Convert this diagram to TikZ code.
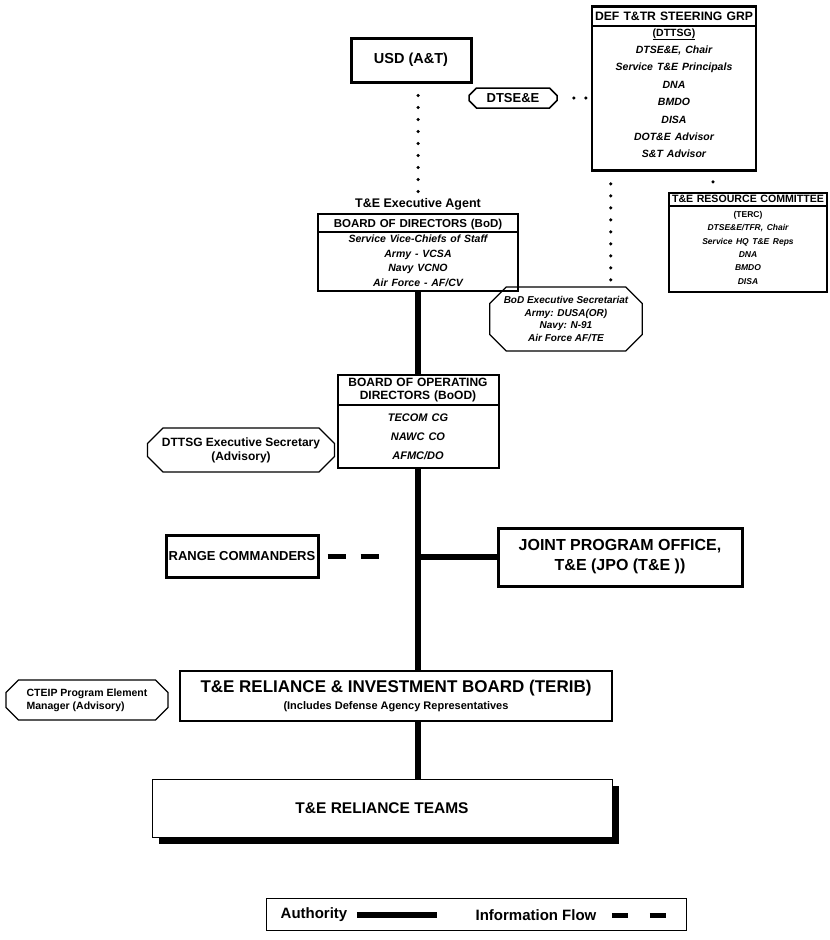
\documentclass[tikz,border=0pt]{standalone}
\usepackage{fontspec}
\setmainfont{Liberation Sans}
\usetikzlibrary{shapes.multipart, shapes.misc, shadows}

\newcommand{\fsz}[2]{\fontsize{#1}{#2}\selectfont}

\begin{document}
\begin{tikzpicture}[x=1pt, y=-1pt,
  heavy/.style={rectangle, draw=black, line width=3pt, align=center, inner sep=2pt},
  panel/.style={rectangle split, rectangle split parts=2, draw=black, align=center, inner xsep=2pt, inner ysep=1.5pt},
  memo/.style={chamfered rectangle, draw=black, line width=1.2pt, align=center, inner sep=1pt},
  authority/.style={line width=6pt},
  infoflow/.style={line width=5pt, dash pattern=on 18pt off 15pt},
  dots/.style={line width=3.5pt, line cap=round, dash pattern=on 0pt off 12pt}]

\useasboundingbox (0,0) rectangle (830,940);

\node[heavy, minimum width=120pt, minimum height=44pt, font=\bfseries\fsz{14.5}{16}] (usd) at (411,60) {USD (A\&T)};
\node[memo, chamfered rectangle xsep=4pt, minimum width=88pt, minimum height=20pt, line width=1.5pt, font=\bfseries\fsz{13}{14}] (dtse) at (513,98) {DTSE\&E};

\node[panel, anchor=north, line width=2.5pt, text width=160pt, font=\bfseries\fsz{12.2}{14}] (dttsg) at (674,5)
  {\rule[-3pt]{0pt}{14pt}DEF T\&TR STEERING GRP
   \nodepart{two}\fsz{10.5}{17.4}\underline{(DTTSG)}\\ \itshape DTSE\&E, Chair\\ Service T\&E Principals\\ DNA\\ BMDO\\ DISA\\ DOT\&E Advisor\\ S\&T Advisor\rule[-10pt]{0pt}{10pt}\par};

\node[panel, anchor=north, line width=2pt, text width=154pt, font=\bfseries\fsz{10.6}{12}] (terc) at (748,192)
  {T\&E RESOURCE COMMITTEE
   \nodepart{two}\fsz{8.5}{13.3}\rule{0pt}{9.5pt}(TERC)\\ \itshape DTSE\&E/TFR, Chair\\ Service HQ T\&E Reps\\ DNA\\ BMDO\\ DISA\rule[-5pt]{0pt}{5pt}\par};

\node[font=\bfseries\fsz{12.5}{14}, inner sep=1pt] (agent) at (418,204) {T\&E Executive Agent};
\node[panel, anchor=north, line width=2pt, text width=196pt, font=\bfseries\fsz{11.5}{13}] (bod) at (418,213)
  {\rule{0pt}{11pt}BOARD OF DIRECTORS (BoD)
   \nodepart{two}\itshape\fsz{10.5}{14.7}Service Vice-Chiefs of Staff\\ Army - VCSA\\ Navy VCNO\\ Air Force - AF/CV\rule[-2pt]{0pt}{2pt}\par};

\node[memo, chamfered rectangle xsep=13pt, minimum width=147pt, minimum height=64pt, font=\bfseries\itshape\fsz{10}{12.5}] (bodsec) at (566,319)
  {BoD Executive Secretariat\\ Army: DUSA(OR)\\ Navy: N-91\\ Air Force AF/TE};

\node[panel, anchor=north, line width=2pt, inner ysep=2pt, text width=157pt, font=\bfseries\fsz{12}{13.5}] (bood) at (418,374)
  {BOARD OF OPERATING\\ DIRECTORS (BoOD)
   \nodepart{two}\itshape\fsz{11}{19}\rule{0pt}{13pt}TECOM CG\\ NAWC CO\\ AFMC/DO\rule[-6pt]{0pt}{6pt}\par};
\node[memo, chamfered rectangle xsep=12pt, minimum width=187pt, minimum height=44pt, font=\bfseries\fsz{12}{14}] (dtsec) at (241,450)
  {DTTSG Executive Secretary\\ (Advisory)};

\node[heavy, minimum width=152pt, minimum height=42pt, font=\bfseries\fsz{13}{15}] (range) at (242,556) {RANGE COMMANDERS};
\node[heavy, minimum width=244pt, minimum height=58pt, font=\bfseries\fsz{16}{20}] (jpo) at (620,557) {JOINT PROGRAM OFFICE,\\ T\&E (JPO (T\&E ))};

\node[heavy, line width=2.5pt, minimum width=432pt, minimum height=50pt, font=\bfseries\fsz{17}{17}] (terib) at (396,696)
  {T\&E RELIANCE \& INVESTMENT BOARD (TERIB)\\ {\fsz{11}{13}(Includes Defense Agency Representatives}};
\node[memo, chamfered rectangle xsep=9pt, minimum width=162pt, minimum height=40pt, align=left, font=\bfseries\fsz{10.5}{13}] (cteip) at (87,700)
  {CTEIP Program Element\\ Manager (Advisory)};

\node[rectangle, draw=black, line width=1pt, fill=white, minimum width=460pt, minimum height=58pt,
  drop shadow={shadow xshift=7pt, shadow yshift=-7pt, fill=black, opacity=1}, font=\bfseries\fsz{15.5}{17}] (teams) at (382,808) {T\&E RELIANCE TEAMS};

% key
\node[rectangle, draw=black, line width=.8pt, minimum width=420pt, minimum height=32pt] (legend) at (476,914) {};
\node[font=\bfseries\fsz{15}{17}] (authkey) at (314,915) {Authority};
\node[font=\bfseries\fsz{15}{17}] (infokey) at (536,915) {Information Flow};
\draw[authority] ([xshift=6pt]authkey.east) -- ([xshift=86pt]authkey.east);
\draw[infoflow, dash pattern=on 16pt off 22pt] ([xshift=12pt]infokey.east) -- ([xshift=66pt]infokey.east);

% information links
\draw[dots, shorten <=12pt] (usd.south -| agent.north) -- (agent.north);
\draw[dots, shorten <=16pt] (dtse.east) -- (dtse.east -| dttsg.west);
\draw[dots, shorten <=12pt] ([xshift=20pt]dttsg.south west) -- ([xshift=20pt]dttsg.south west |- bodsec.north);
\draw[dots, shorten <=10pt, shorten >=5pt] ([xshift=39pt]dttsg.south) -- ([xshift=39pt]dttsg.south |- terc.north);
\draw[infoflow, shorten <=8pt, shorten >=36pt] (range.east) -- (range.east -| bood.south);

% authority links
\draw[authority] (bod.south) -- (bood.north);
\draw[authority] (bood.south) -- (bood.south |- terib.north);
\draw[authority] (bood.south |- terib.south) -- (bood.south |- teams.north);
\draw[authority] (jpo.west) -- (jpo.west -| bood.south);
\end{tikzpicture}
\end{document}
